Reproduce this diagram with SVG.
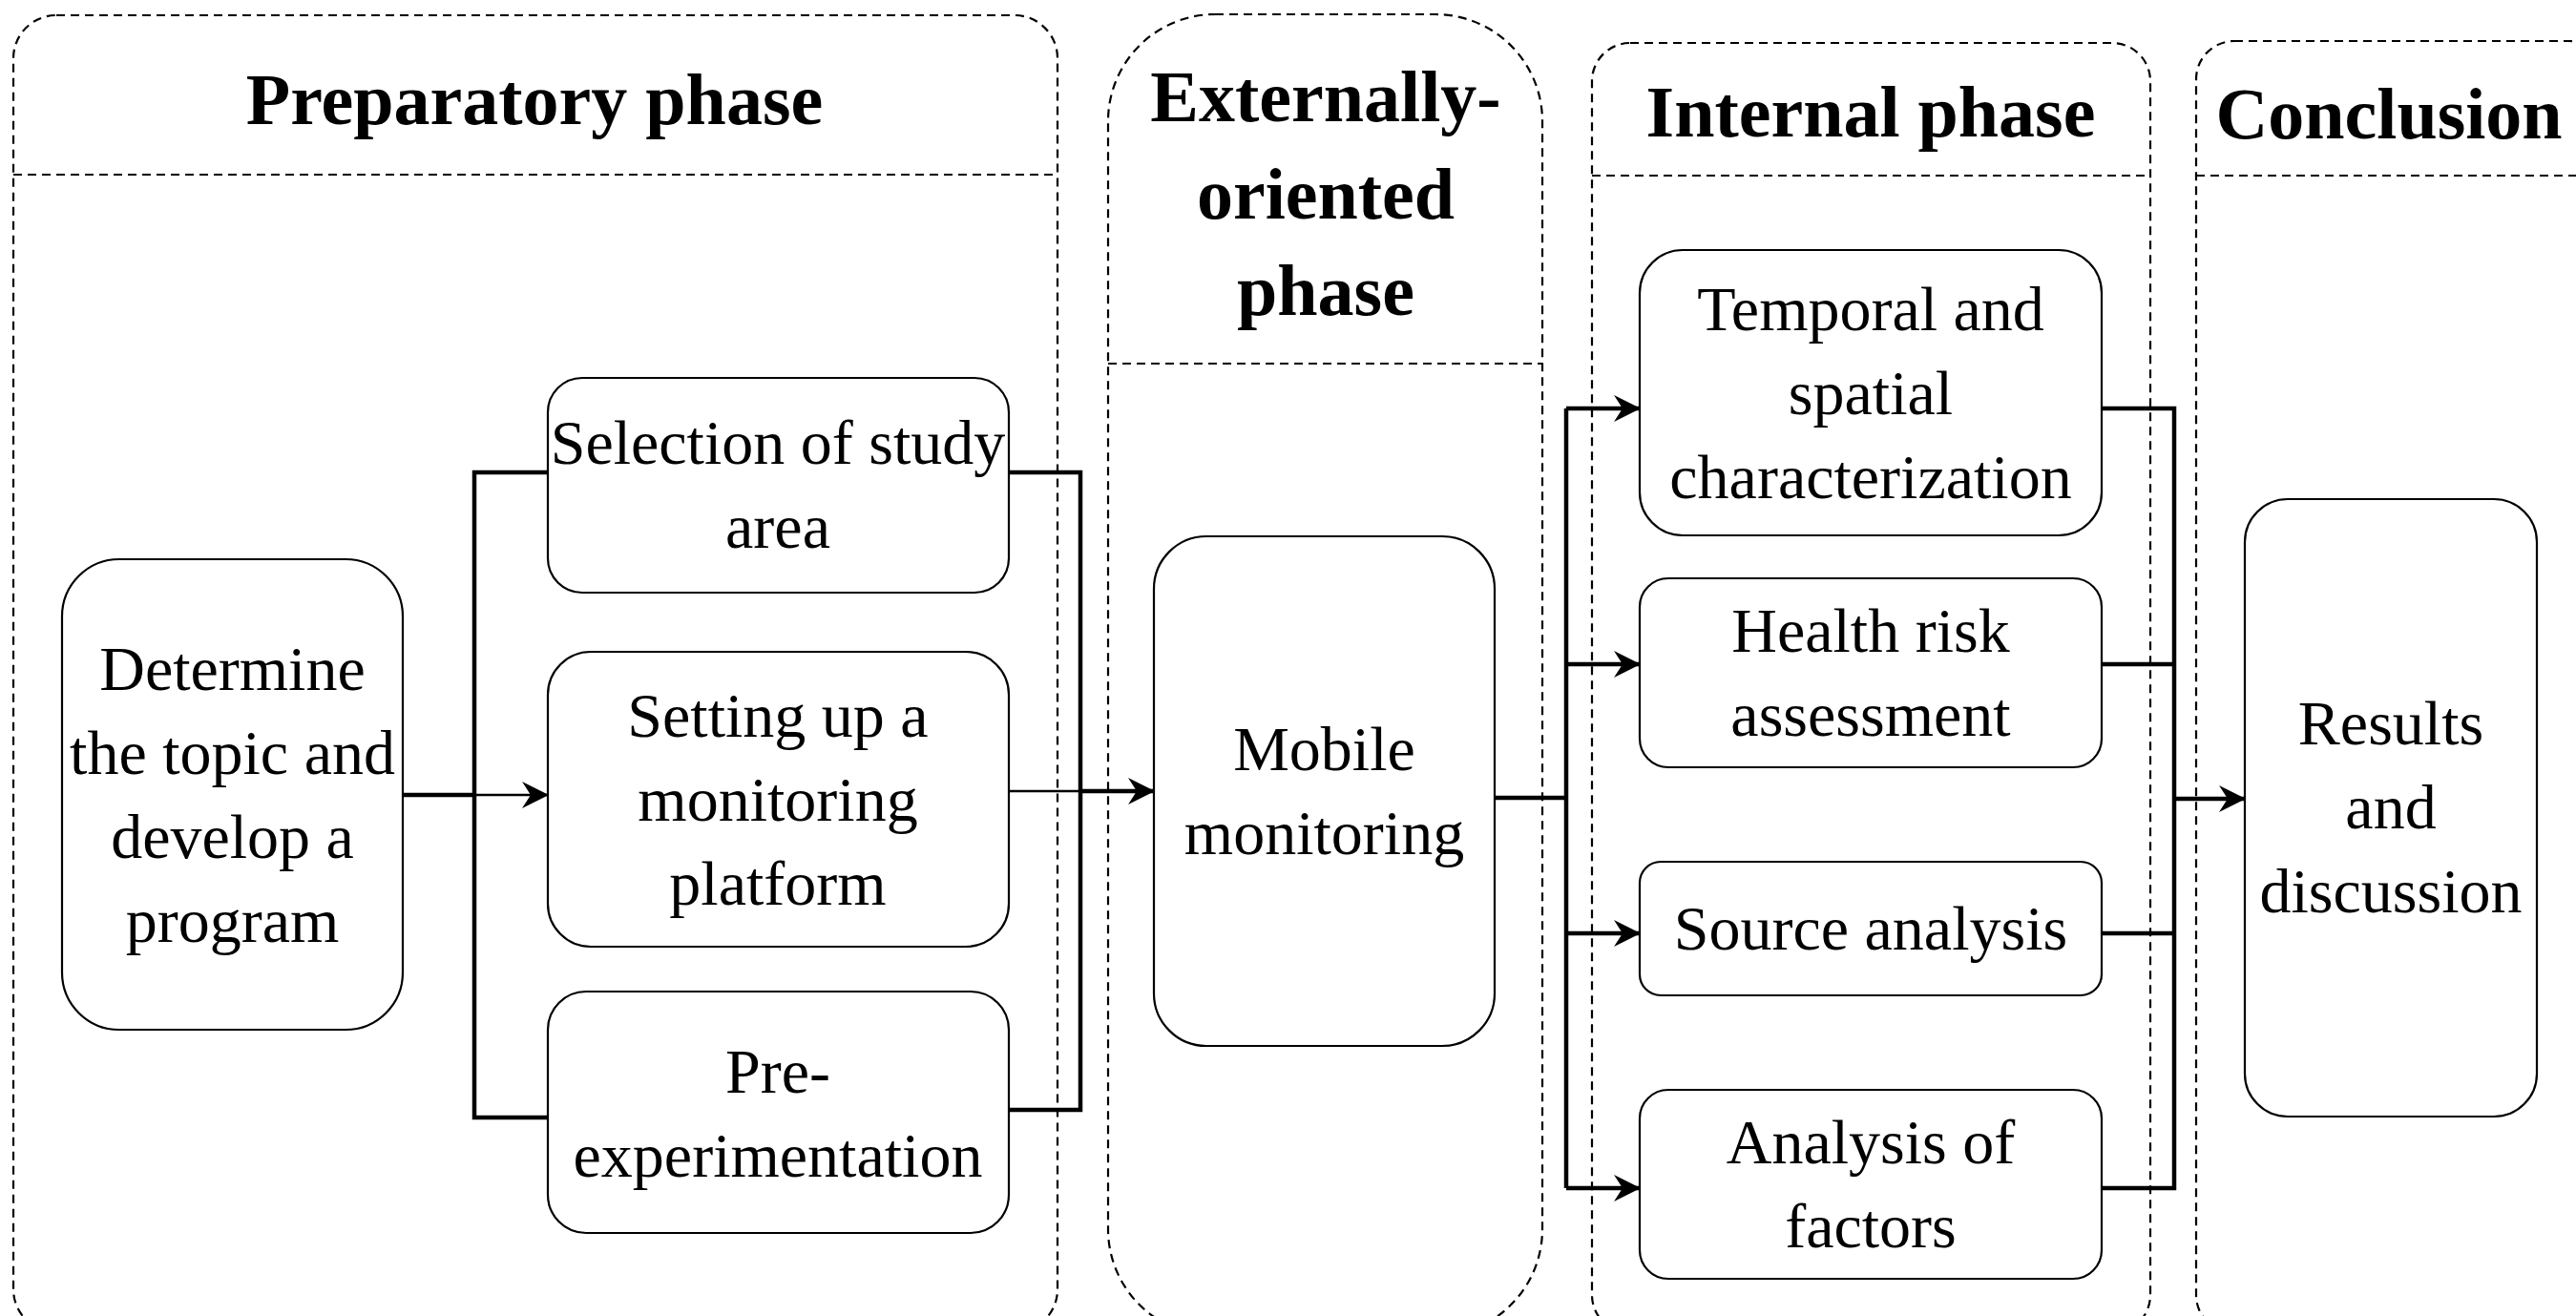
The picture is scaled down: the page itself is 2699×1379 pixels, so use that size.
<svg xmlns="http://www.w3.org/2000/svg" width="2699" height="1379" viewBox="0 0 2699 1379">
<style>
.cont{fill:none;stroke:#000;stroke-width:2.2;stroke-dasharray:9 6}
.node{fill:#fff;stroke:#000;stroke-width:2.2}
.hd{font-family:"Liberation Serif","Times New Roman",serif;font-weight:bold;font-size:76px;text-anchor:middle;fill:#000}
.tx{font-family:"Liberation Serif","Times New Roman",serif;font-size:66px;text-anchor:middle;fill:#000}
.thick{fill:none;stroke:#000;stroke-width:4.5}
.thin{fill:none;stroke:#000;stroke-width:2.5}
</style>
<defs>
<marker id="arr" markerUnits="userSpaceOnUse" markerWidth="28" markerHeight="28" viewBox="0 0 28 28" refX="27" refY="14" orient="auto">
<path d="M0,0 L28,14 L0,28 L9,14 z" fill="#000"/>
</marker>
</defs>
<rect width="2699" height="1379" fill="#fff"/>
<g id="containers">
<g id="preparatory">
<rect class="cont" x="14" y="16" width="1094" height="1380" rx="45" ry="45"/>
<line class="cont" x1="14" y1="183" x2="1108" y2="183"/>
<text class="hd" x="560" y="130">Preparatory phase</text>
</g>
<g id="external">
<rect class="cont" x="1161" y="15" width="455" height="1385" rx="112" ry="112"/>
<line class="cont" x1="1161" y1="381" x2="1616" y2="381"/>
<text class="hd" x="1389" y="127">Externally-</text>
<text class="hd" x="1389" y="229">oriented</text>
<text class="hd" x="1389" y="330">phase</text>
</g>
<g id="internal">
<rect class="cont" x="1668" y="45" width="585" height="1352" rx="40" ry="40"/>
<line class="cont" x1="1668" y1="184" x2="2253" y2="184"/>
<text class="hd" x="1960" y="143">Internal phase</text>
</g>
<g id="conclusion">
<rect class="cont" x="2301" y="43" width="430" height="1354" rx="40" ry="40"/>
<line class="cont" x1="2301" y1="184" x2="2731" y2="184"/>
<text class="hd" x="2503" y="145">Conclusion</text>
</g>
</g>
<g id="connectors">
<path class="thick" d="M421,833 H497"/>
<path class="thin" d="M497,833 H574" marker-end="url(#arr)"/>
<path class="thick" d="M574,495 H497 V1171 H574"/>
<path class="thick" d="M1057,495 H1132 V1163 H1057"/>
<path class="thin" d="M1057,829 H1132"/>
<path class="thick" d="M1132,829 H1209" marker-end="url(#arr)"/>
<path class="thick" d="M1566,836 H1641"/>
<path class="thick" d="M1641,428 V1245"/>
<path class="thick" d="M1641,428 H1718" marker-end="url(#arr)"/>
<path class="thick" d="M1641,696 H1718" marker-end="url(#arr)"/>
<path class="thick" d="M1641,978 H1718" marker-end="url(#arr)"/>
<path class="thick" d="M1641,1245 H1718" marker-end="url(#arr)"/>
<path class="thick" d="M2202,428 H2278 V1245 H2202"/>
<path class="thick" d="M2202,696 H2278"/>
<path class="thick" d="M2202,978 H2278"/>
<path class="thick" d="M2278,837 H2352" marker-end="url(#arr)"/>
</g>
<g id="n-determine">
<rect class="node" x="65" y="586" width="357" height="493" rx="60" ry="60"/>
<text class="tx" x="243.5" y="723">Determine</text>
<text class="tx" x="243.5" y="811">the topic and</text>
<text class="tx" x="243.5" y="899">develop a</text>
<text class="tx" x="243.5" y="987">program</text>
</g>
<g id="n-selection">
<rect class="node" x="574" y="396" width="483" height="225" rx="36" ry="36"/>
<text class="tx" x="815" y="486">Selection of study</text>
<text class="tx" x="815" y="574">area</text>
</g>
<g id="n-setting">
<rect class="node" x="574" y="683" width="483" height="309" rx="45" ry="45"/>
<text class="tx" x="815" y="772">Setting up a</text>
<text class="tx" x="815" y="860">monitoring</text>
<text class="tx" x="815" y="948">platform</text>
</g>
<g id="n-pre">
<rect class="node" x="574" y="1039" width="483" height="253" rx="40" ry="40"/>
<text class="tx" x="815" y="1145">Pre-</text>
<text class="tx" x="815" y="1233">experimentation</text>
</g>
<g id="n-mobile">
<rect class="node" x="1209" y="562" width="357" height="534" rx="55" ry="55"/>
<text class="tx" x="1387.5" y="807">Mobile</text>
<text class="tx" x="1387.5" y="895">monitoring</text>
</g>
<g id="n-temporal">
<rect class="node" x="1718" y="262" width="484" height="299" rx="45" ry="45"/>
<text class="tx" x="1960" y="346">Temporal and</text>
<text class="tx" x="1960" y="434">spatial</text>
<text class="tx" x="1960" y="522">characterization</text>
</g>
<g id="n-health">
<rect class="node" x="1718" y="606" width="484" height="198" rx="30" ry="30"/>
<text class="tx" x="1960" y="683">Health risk</text>
<text class="tx" x="1960" y="771">assessment</text>
</g>
<g id="n-source">
<rect class="node" x="1718" y="903" width="484" height="140" rx="22" ry="22"/>
<text class="tx" x="1960" y="995">Source analysis</text>
</g>
<g id="n-analysis">
<rect class="node" x="1718" y="1142" width="484" height="198" rx="30" ry="30"/>
<text class="tx" x="1960" y="1219">Analysis of</text>
<text class="tx" x="1960" y="1307">factors</text>
</g>
<g id="n-results">
<rect class="node" x="2352" y="523" width="306" height="647" rx="45" ry="45"/>
<text class="tx" x="2505" y="780">Results</text>
<text class="tx" x="2505" y="868">and</text>
<text class="tx" x="2505" y="956">discussion</text>
</g>
</svg>
